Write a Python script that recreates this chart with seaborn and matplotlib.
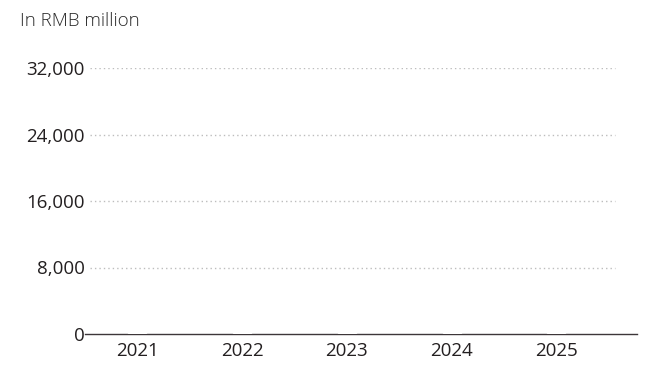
import matplotlib
matplotlib.use("Agg")
import matplotlib.pyplot as plt
import seaborn as sns
import pandas as pd

years = ["2021", "2022", "2023", "2024", "2025"]
values = [80, 80, 80, 80, 80]
yticks = [0, 8000, 16000, 24000, 32000]
ytick_labels = ["0", "8,000", "16,000", "24,000", "32,000"]
unit_label = "In RMB million"

sns.set_theme(style="white")
plt.rcParams["font.family"] = ["Open Sans", "DejaVu Sans"]

W, H = 661, 380
fig = plt.figure(figsize=(W / 100, H / 100), dpi=100)
left, right, top, bottom = 85, 637, 68, 334
ax = fig.add_axes([left / W, 1 - bottom / H, (right - left) / W, (bottom - top) / H])

df = pd.DataFrame({"year": years, "value": values})
sns.barplot(data=df, x="year", y="value", color="#1c2b3a", width=0.17,
            ax=ax, zorder=3, saturation=1)

ax.set_ylim(0, 32000)
ax.set_xlim(-0.5, 4.77)
ax.set_yticks(yticks)
ax.set_yticklabels(ytick_labels)
ax.set_xlabel("")
ax.set_ylabel("")

for y in yticks[1:]:
    ax.axhline(y, xmin=(90 - left) / (right - left), xmax=(615 - left) / (right - left),
               color="#bdbdbd", linestyle=(0, (1, 2.2)), linewidth=1.0, zorder=1)

for s in ["top", "right", "left"]:
    ax.spines[s].set_visible(False)
ax.spines["bottom"].set_color("#3d3639")
ax.spines["bottom"].set_linewidth(1.0)
ax.spines["bottom"].set_zorder(2)

ax.tick_params(axis="y", length=0, pad=0, labelsize=13.5, labelcolor="#231f20")
ax.tick_params(axis="x", length=0, pad=6, labelsize=13.5, labelcolor="#231f20")

fig.text(20 / W, 1 - 21 / H, unit_label, ha="left", va="center",
         fontsize=13.5, color="#2b2b2b", fontweight="light")

fig.savefig("out.png", dpi=100, facecolor="white")
